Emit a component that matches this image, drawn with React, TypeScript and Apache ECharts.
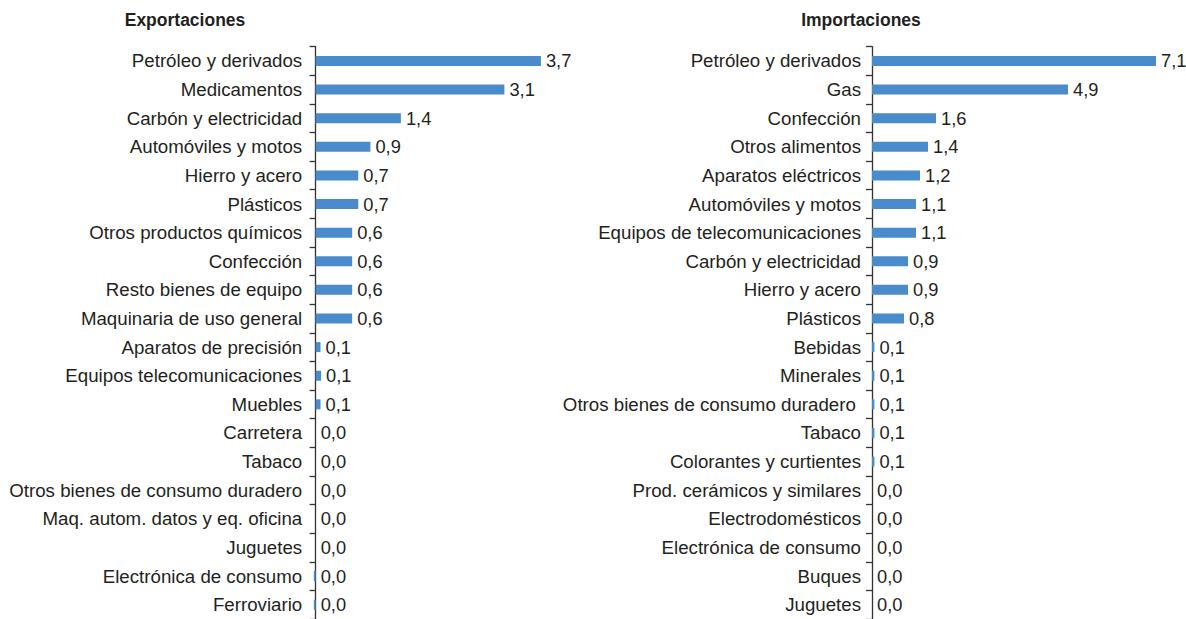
import React, { useEffect, useRef } from "react";
import * as echarts from "echarts";

const exportCategories = [
  "Petróleo y derivados",
  "Medicamentos",
  "Carbón y electricidad",
  "Automóviles y motos",
  "Hierro y acero",
  "Plásticos",
  "Otros productos químicos",
  "Confección",
  "Resto bienes de equipo",
  "Maquinaria de uso general",
  "Aparatos de precisión",
  "Equipos telecomunicaciones",
  "Muebles",
  "Carretera",
  "Tabaco",
  "Otros bienes de consumo duradero",
  "Maq. autom. datos y eq. oficina",
  "Juguetes",
  "Electrónica de consumo",
  "Ferroviario",
];
const exportValues = [3.7, 3.1, 1.4, 0.9, 0.7, 0.7, 0.6, 0.6, 0.6, 0.6, 0.08, 0.09, 0.08, 0.0, 0.0, 0.0, 0.0, 0.0, -0.03, -0.03];

const importCategories = [
  "Petróleo y derivados",
  "Gas",
  "Confección",
  "Otros alimentos",
  "Aparatos eléctricos",
  "Automóviles y motos",
  "Equipos de telecomunicaciones",
  "Carbón y electricidad",
  "Hierro y acero",
  "Plásticos",
  "Bebidas",
  "Minerales",
  "Otros bienes de consumo duradero ",
  "Tabaco",
  "Colorantes y curtientes",
  "Prod. cerámicos y similares",
  "Electrodomésticos",
  "Electrónica de consumo",
  "Buques",
  "Juguetes",
];
const importValues = [7.1, 4.9, 1.6, 1.4, 1.2, 1.1, 1.1, 0.9, 0.9, 0.8, 0.06, 0.06, 0.06, 0.06, 0.06, 0.0, 0.0, 0.0, 0.0, 0.0];

const titles = ["Exportaciones", "Importaciones"];

const TEXT = "#231f20";
const BAR = "#4a8bcb";
const FONT = "'Liberation Sans', Arial, Helvetica, sans-serif";

const fmt = (v: number) => {
  const r = Math.round(v * 10) / 10;
  return (r === 0 ? 0 : r).toFixed(1).replace(".", ",");
};

export default function App() {
  const ref = useRef<HTMLDivElement>(null);
  useEffect(() => {
    if (!ref.current) return;
    const chart = echarts.init(ref.current, undefined, { renderer: "svg" });
    const gridTop = 46.6;
    const gridHeight = 574.7;
    const yAxisCommon = (cats: string[], idx: number) => ({
      type: "category" as const,
      gridIndex: idx,
      data: cats,
      inverse: true,
      axisLine: { show: true, onZero: true, lineStyle: { color: "#333333", width: 1.3 } },
      axisTick: { show: true, inside: false, length: 6, lineStyle: { color: "#333333", width: 1.3 } },
      axisLabel: { color: TEXT, fontSize: 18.7, fontFamily: FONT, margin: 11 },
      splitLine: { show: false },
    });
    const xAxisCommon = (idx: number, min: number, max: number) => ({
      type: "value" as const,
      gridIndex: idx,
      min,
      max,
      axisLine: { show: false },
      axisTick: { show: false },
      axisLabel: { show: false },
      splitLine: { show: false },
    });
    const seriesCommon = (idx: number, vals: number[]) => ({
      type: "bar" as const,
      xAxisIndex: idx,
      yAxisIndex: idx,
      data: vals,
      barWidth: 10,
      itemStyle: { color: BAR },
      label: {
        show: true,
        position: "right" as const,
        distance: 5,
        color: TEXT,
        fontSize: 18.3,
        fontFamily: FONT,
        formatter: (p: any) => fmt(p.value),
      },
    });
    const titleStyle = (text: string, x: number) => ({
      type: "text" as const,
      x,
      y: 20,
      style: {
        text,
        fill: TEXT,
        font: `bold 17.5px ${FONT}`,
        textAlign: "center",
        textVerticalAlign: "middle",
      },
    });
    chart.setOption({
      animation: false,
      backgroundColor: "#ffffff",
      graphic: [titleStyle(titles[0], 185), titleStyle(titles[1], 861)],
      grid: [
        { left: 313.2, top: gridTop, width: 246, height: gridHeight, containLabel: false },
        { left: 872, top: gridTop, width: 300, height: gridHeight, containLabel: false },
      ],
      xAxis: [xAxisCommon(0, -0.04, 4), xAxisCommon(1, 0, 7.5)],
      yAxis: [yAxisCommon(exportCategories, 0), yAxisCommon(importCategories, 1)],
      series: [seriesCommon(0, exportValues), seriesCommon(1, importValues)],
    });
    return () => chart.dispose();
  }, []);
  return (
    <div
      ref={ref}
      style={{ position: "fixed", left: 0, top: 0, width: 1186, height: 619, background: "#fff" }}
    />
  );
}
